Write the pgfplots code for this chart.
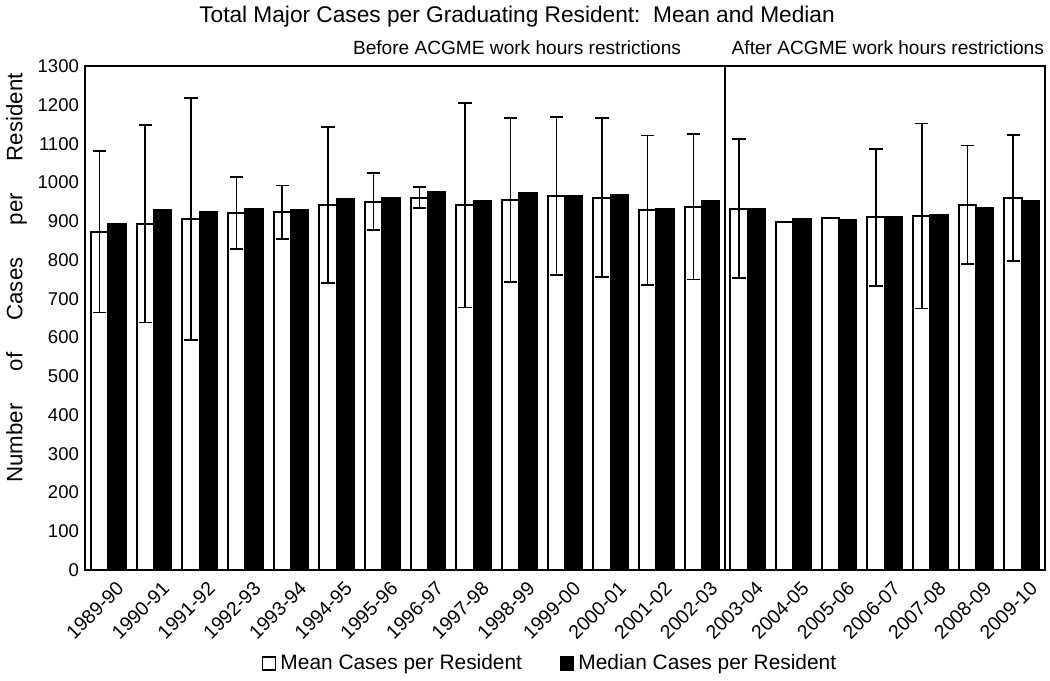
\documentclass[border=0pt]{standalone}
\usepackage{pgfplots}
\pgfplotsset{compat=1.18}
\usepackage{pgfplotstable}
\usepackage{fontspec}
\setmainfont{Liberation Sans}

\pgfplotstableread{
x mean err median
0 873 208 893
1 894 255 928
2 906 312 923
3 921 93 931
4 923 69 930
5 942 202 957
6 951 73 961
7 961 27 975
8 941 264 952
9 955 211 973
10 966 204 965
11 961 205 969
12 929 193 933
13 938 188 952
14 933 179 931
15 899 0 906
16 909 0 904
17 910 177 911
18 914 239 916
19 943 153 935
20 960 163 952
}\data

\pgfplotstableread{
x mean err
0 873 208
1 894 255
2 906 312
3 921 93
4 923 69
5 942 202
6 951 73
7 961 27
8 941 264
9 955 211
10 966 204
11 961 205
12 929 193
13 938 188
14 933 179
17 910 177
18 914 239
19 943 153
20 960 163
}\errdata

\begin{document}
\fontsize{9.3}{11}\selectfont
\begin{tikzpicture}
\begin{axis}[
  scale only axis,
  width=482pt, height=253pt,
  ybar,
  bar width=0.38,
  xmin=-0.5, xmax=20.5,
  ymin=0, ymax=1300,
  ytick={0,100,...,1300},
  xtick=data,
  xticklabels={1989-90,1990-91,1991-92,1992-93,1993-94,1994-95,1995-96,1996-97,1997-98,1998-99,1999-00,2000-01,2001-02,2002-03,2003-04,2004-05,2005-06,2006-07,2007-08,2008-09,2009-10},
  x tick label style={rotate=45, anchor=north east, font=\fontsize{9.8}{11}\selectfont, inner sep=1pt, xshift=0pt, yshift=-5pt},
  y tick label style={font=\fontsize{9.3}{11}\selectfont},
  /pgf/number format/assume math mode=true,
  /pgf/number format/1000 sep={},
  major tick length=0pt,
  axis line style={line width=1pt},
  ylabel={Number\hspace{13pt} of\hspace{13pt} Cases\hspace{13pt} per\hspace{13pt} Resident},
  ylabel style={font=\fontsize{11.2}{13}\selectfont, at={(ticklabel cs:0.58)}, yshift=-1pt},
  legend style={at={(0.5,-0.186)}, anchor=center, xshift=-7pt, draw=none, legend columns=2, font=\fontsize{10.5}{12}\selectfont,
    /tikz/every even column/.append style={column sep=17pt}},
  legend image code/.code={\draw[#1, line width=0.7pt] (0pt,-3.3pt) rectangle (6.6pt,3.3pt);},
  legend cell align=left,
  clip=false,
]
\addplot[draw=black, fill=white, line width=1pt, bar shift=-0.19] table[x=x, y=mean] {\data};
\addlegendentry{Mean Cases per Resident}
\addplot[draw=black, fill=black, line width=1pt, bar shift=0.19] table[x=x, y=median] {\data};
\addlegendentry{Median Cases per Resident}
\addplot[draw=none, fill=none, bar shift=-0.19, forget plot,
  error bars/.cd, y dir=both, y explicit, error bar style={line width=0.8pt, black},
  error mark options={line width=0.8pt, mark size=3.3pt, rotate=90}]
  table[x=x, y=mean, y error=err] {\errdata};
\draw[line width=1pt] (axis cs:13.5,0) -- (axis cs:13.5,1300);
\node[anchor=base, font=\fontsize{9.6}{11}\selectfont] at (rel axis cs:0.45,1) [yshift=6pt] {Before ACGME work hours restrictions};
\node[anchor=base, font=\fontsize{9.6}{11}\selectfont] at (rel axis cs:0.8365,1) [yshift=6pt] {After ACGME work hours restrictions};
\node[anchor=base, font=\fontsize{11.4}{13}\selectfont] at (rel axis cs:0.45,1) [yshift=22pt] {Total Major Cases per Graduating Resident:\ \ Mean and Median};
\end{axis}
\end{tikzpicture}
\end{document}
